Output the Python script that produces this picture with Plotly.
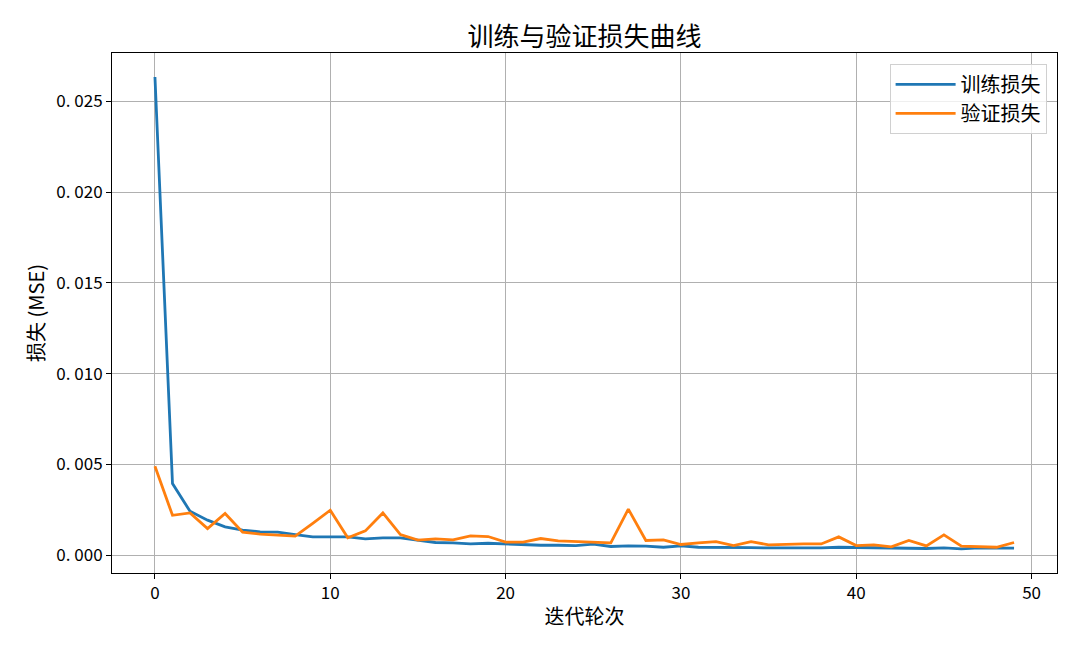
import plotly.graph_objects as go

epochs = list(range(50))
train_loss = [0.02635, 0.00395, 0.00242, 0.00193, 0.00156, 0.00138, 0.00129, 0.00127, 0.00114, 0.00101,
              0.00101, 0.00101, 0.00090, 0.00096, 0.00096, 0.00083, 0.00070, 0.00068, 0.00062, 0.00066,
              0.00062, 0.00057, 0.00055, 0.00055, 0.00053, 0.00061, 0.00048, 0.00051, 0.00050, 0.00044,
              0.00051, 0.00044, 0.00044, 0.00046, 0.00042, 0.00040, 0.00039, 0.00040, 0.00040, 0.00044,
              0.00042, 0.00042, 0.00042, 0.00037, 0.00037, 0.00040, 0.00035, 0.00040, 0.00039, 0.00039]
val_loss = [0.00490, 0.00220, 0.00233, 0.00147, 0.00230, 0.00127, 0.00116, 0.00110, 0.00105, 0.00176,
            0.00248, 0.00096, 0.00134, 0.00233, 0.00114, 0.00083, 0.00090, 0.00085, 0.00107, 0.00103,
            0.00072, 0.00072, 0.00092, 0.00079, 0.00075, 0.00073, 0.00068, 0.00254, 0.00081, 0.00085,
            0.00059, 0.00068, 0.00075, 0.00053, 0.00075, 0.00057, 0.00061, 0.00062, 0.00062, 0.00101,
            0.00053, 0.00057, 0.00046, 0.00081, 0.00051, 0.00112, 0.00050, 0.00046, 0.00044, 0.00070]

x_ticks = [0, 10, 20, 30, 40, 50]
y_ticks = [0.0, 0.005, 0.010, 0.015, 0.020, 0.025]
y_ticklabels = ["0.\u00a0000", "0.\u00a0005", "0.\u00a0010", "0.\u00a0015", "0.\u00a0020", "0.\u00a0025"]

FONT = "Noto Sans CJK SC, SimHei, sans-serif"

fig = go.Figure()
fig.add_trace(go.Scatter(x=epochs, y=train_loss, mode="lines", name="训练损失",
                         line=dict(color="#1f77b4", width=2.8)))
fig.add_trace(go.Scatter(x=epochs, y=val_loss, mode="lines", name="验证损失",
                         line=dict(color="#ff7f0e", width=2.8)))

axis_common = dict(
    showline=True, linecolor="black", linewidth=1, mirror=True,
    ticks="outside", ticklen=5, tickwidth=1, tickcolor="black",
    showgrid=True, gridcolor="#b0b0b0", gridwidth=1, zeroline=False,
    tickfont=dict(family=FONT, size=17, color="black"),
    automargin=False,
)

fig.update_layout(
    width=1064, height=632,
    paper_bgcolor="white", plot_bgcolor="white",
    margin=dict(l=104, r=15, t=45, b=67),
    title=dict(text="训练与验证损失曲线", xref="paper", x=0.5, xanchor="center", y=0.954, yanchor="middle",
               font=dict(family=FONT, size=26, color="black")),
    font=dict(family=FONT, color="black"),
    xaxis=dict(range=[-2.45, 51.45], tickvals=x_ticks,
               title=dict(text="迭代轮次", font=dict(family=FONT, size=20), standoff=6),
               **axis_common),
    yaxis=dict(range=[-0.00098, 0.02767], tickvals=y_ticks, ticktext=y_ticklabels,
               title=dict(text="损失 (MSE)", font=dict(family=FONT, size=20), standoff=6),
               **axis_common),
    legend=dict(x=0.989, y=0.979, xanchor="right", yanchor="top",
                bgcolor="rgba(255,255,255,0.8)", bordercolor="#d0d0d0", borderwidth=1,
                font=dict(family=FONT, size=20, color="black"), tracegroupgap=0,
                itemwidth=60),
    showlegend=True,
)

fig.write_html("out.html")
